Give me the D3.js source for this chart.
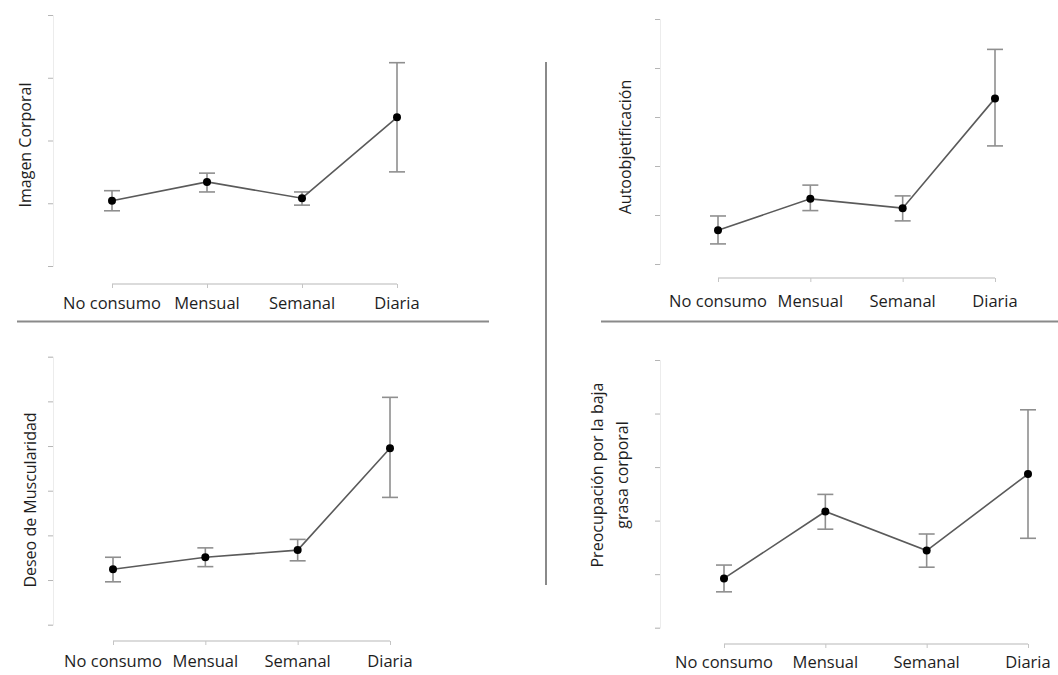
<!DOCTYPE html>
<html>
<head>
<meta charset="utf-8">
<script src="https://cdn.jsdelivr.net/npm/d3@7"></script>
<style>
  body { margin: 0; background: #fff; }
  svg { font-family: "Open Sans", sans-serif; }
</style>
</head>
<body>
<script>
// categories (x axis)
const categories = ["No consumo", "Mensual", "Semanal", "Diaria"];

// Imagen Corporal
const imagenMean = [1.04, 1.34, 1.08, 2.37];
const imagenLow  = [0.88, 1.18, 0.97, 1.50];
const imagenHigh = [1.20, 1.48, 1.18, 3.24];
const imagenTicks = [0, 1, 2, 3, 4];

// Autoobjetificación
const autoMean = [0.69, 1.33, 1.14, 3.38];
const autoLow  = [0.41, 1.09, 0.88, 2.41];
const autoHigh = [0.98, 1.61, 1.39, 4.38];
const autoTicks = [0, 1, 2, 3, 4, 5];

// Deseo de Muscularidad
const deseoMean = [1.24, 1.51, 1.67, 3.95];
const deseoLow  = [0.96, 1.30, 1.43, 2.85];
const deseoHigh = [1.51, 1.72, 1.91, 5.09];
const deseoTicks = [0, 1, 2, 3, 4, 5, 6];

// Preocupación por la baja grasa corporal
const grasaMean = [0.92, 2.17, 1.44, 2.87];
const grasaLow  = [0.67, 1.84, 1.13, 1.67];
const grasaHigh = [1.17, 2.49, 1.75, 4.07];
const grasaTicks = [0, 1, 2, 3, 4, 5];

const panels = [
  { title: ["Imagen Corporal"], mean: imagenMean, low: imagenLow, high: imagenHigh, ticks: imagenTicks,
    yAxisX: 53, yRange: [266, 15], xAxisY: 284, xRange: [112, 397], labelY: 309, titleX: 25, titleY: 145 },
  { title: ["Autoobjetificación"], mean: autoMean, low: autoLow, high: autoHigh, ticks: autoTicks,
    yAxisX: 660, yRange: [264, 19], xAxisY: 278, xRange: [718, 995], labelY: 307, titleX: 625, titleY: 147 },
  { title: ["Deseo de Muscularidad"], mean: deseoMean, low: deseoLow, high: deseoHigh, ticks: deseoTicks,
    yAxisX: 53, yRange: [624.7, 356.7], xAxisY: 641, xRange: [113, 390], labelY: 667, titleX: 30, titleY: 500 },
  { title: ["Preocupación por la baja", "grasa corporal"], mean: grasaMean, low: grasaLow, high: grasaHigh, ticks: grasaTicks,
    yAxisX: 660, yRange: [627.7, 360], xAxisY: 644, xRange: [724, 1028], labelY: 668, titleX: 610, titleY: 475 }
];

const svg = d3.select("body").append("svg")
  .attr("width", 1058)
  .attr("height", 675);

// separators
svg.append("line").attr("x1", 17).attr("x2", 489).attr("y1", 321.5).attr("y2", 321.5)
  .attr("stroke", "#8a8a8a").attr("stroke-width", 2);
svg.append("line").attr("x1", 601).attr("x2", 1058).attr("y1", 321.5).attr("y2", 321.5)
  .attr("stroke", "#8a8a8a").attr("stroke-width", 2);
svg.append("line").attr("x1", 546).attr("x2", 546).attr("y1", 62).attr("y2", 585)
  .attr("stroke", "#8a8a8a").attr("stroke-width", 2);

panels.forEach(function(p) {
  const g = svg.append("g");
  const x = d3.scalePoint().domain(categories).range(p.xRange);
  const y = d3.scaleLinear().domain([0, d3.max(p.ticks)]).range(p.yRange);

  // y axis (no labels)
  const yAxis = g.append("g")
    .attr("transform", "translate(" + p.yAxisX + ",0)")
    .call(d3.axisLeft(y).tickValues(p.ticks).tickSize(5).tickFormat(""));
  yAxis.select(".domain").attr("stroke", "#ececec").attr("stroke-width", 1);
  yAxis.selectAll(".tick line").attr("stroke", "#b5b5b5").attr("stroke-width", 1);

  // x axis
  const xAxis = g.append("g")
    .attr("transform", "translate(0," + p.xAxisY + ")")
    .call(d3.axisBottom(x).tickSize(4).tickSizeOuter(0).tickFormat(""));
  xAxis.select(".domain").attr("stroke", "#cfcfcf").attr("stroke-width", 1.5)
    .attr("d", "M" + p.xRange[0] + ",0H" + p.xRange[1]);
  xAxis.selectAll(".tick line").attr("stroke", "#c5c5c5").attr("stroke-width", 1);

  g.selectAll(".xlab")
    .data(categories)
    .enter().append("text")
    .attr("class", "xlab")
    .attr("x", (d) => x(d))
    .attr("y", p.labelY)
    .attr("text-anchor", "middle")
    .attr("font-size", 16.5)
    .attr("fill", "#1e1e1e")
    .text((d) => d);

  // y title
  const t = g.append("text")
    .attr("transform", "translate(" + p.titleX + "," + p.titleY + ") rotate(-90)")
    .attr("text-anchor", "middle")
    .attr("font-size", 16)
    .attr("fill", "#1e1e1e");
  p.title.forEach(function(line, i) {
    t.append("tspan")
      .attr("x", 0)
      .attr("dy", i === 0 ? (0.35 - (p.title.length - 1) * 0.8) + "em" : "1.6em")
      .text(line);
  });

  // error bars
  const eb = g.selectAll(".err")
    .data(categories)
    .enter().append("g")
    .attr("class", "err")
    .attr("stroke", "#8f8f8f")
    .attr("stroke-width", 1.6);
  eb.append("line")
    .attr("x1", (d) => x(d)).attr("x2", (d) => x(d))
    .attr("y1", (d, i) => y(p.low[i])).attr("y2", (d, i) => y(p.high[i]));
  eb.append("line")
    .attr("x1", (d) => x(d) - 8).attr("x2", (d) => x(d) + 8)
    .attr("y1", (d, i) => y(p.high[i])).attr("y2", (d, i) => y(p.high[i]));
  eb.append("line")
    .attr("x1", (d) => x(d) - 8).attr("x2", (d) => x(d) + 8)
    .attr("y1", (d, i) => y(p.low[i])).attr("y2", (d, i) => y(p.low[i]));

  // mean line
  const line = d3.line()
    .x((d, i) => x(categories[i]))
    .y((d) => y(d));
  g.append("path")
    .datum(p.mean)
    .attr("d", line)
    .attr("fill", "none")
    .attr("stroke", "#5a5a5a")
    .attr("stroke-width", 1.6);

  g.selectAll(".pt")
    .data(p.mean)
    .enter().append("circle")
    .attr("class", "pt")
    .attr("cx", (d, i) => x(categories[i]))
    .attr("cy", (d) => y(d))
    .attr("r", 4)
    .attr("fill", "#000");
});
</script>
</body>
</html>
